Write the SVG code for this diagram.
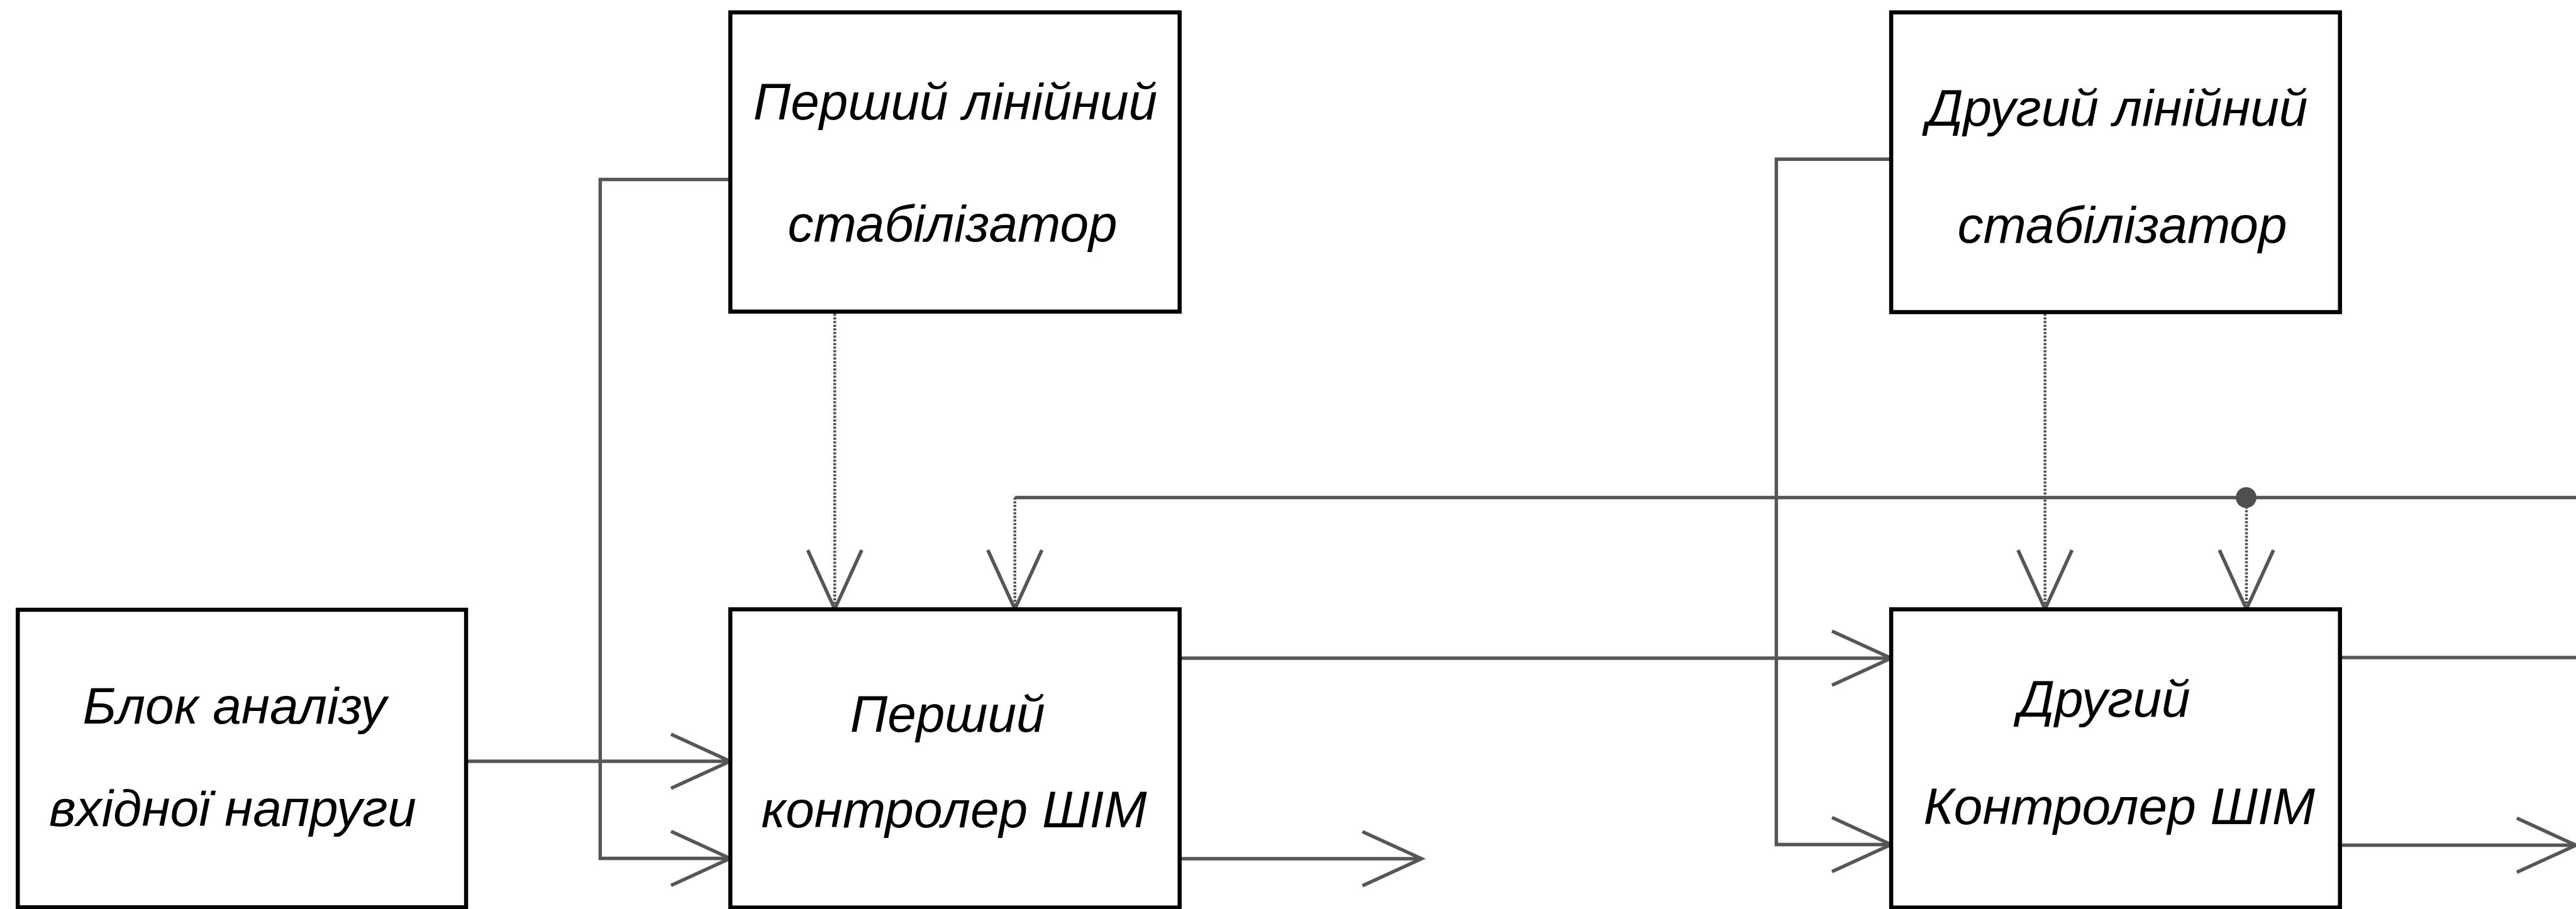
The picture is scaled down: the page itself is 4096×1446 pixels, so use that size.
<svg xmlns="http://www.w3.org/2000/svg" width="4096" height="1446" viewBox="0 0 4096 1446">
<style>
.box{fill:#fff;stroke:#000;stroke-width:6.5}
.lbl{font-family:"Liberation Sans",Arial,sans-serif;font-style:italic;font-size:82px;fill:#000;text-anchor:middle}
.wire{fill:none;stroke:#565656;stroke-width:5.5}
.dash{fill:none;stroke:#555;stroke-width:4.5;stroke-dasharray:3.5 2.3}
</style>
<defs>
<marker id="arr" markerUnits="userSpaceOnUse" markerWidth="120" markerHeight="120" viewBox="-110 -60 120 120" refX="0" refY="0" orient="auto" overflow="visible">
<path d="M-94,-43 L0,0 L-94,43" fill="none" stroke="#565656" stroke-width="5.5" stroke-dasharray="none"/>
</marker>
</defs>
<rect width="4096" height="1446" fill="#fff"/>
<g id="connectors">
<path class="wire" d="M1161,285.6 H954.4 V1365.5 H1161" marker-end="url(#arr)"/>
<path class="wire" d="M741,1211 H1161" marker-end="url(#arr)"/>
<path class="dash" d="M1327.3,499 V969" marker-end="url(#arr)"/>
<path class="wire" d="M1613.7,791.5 H4096"/>
<path class="dash" d="M1613.7,791.5 V969" marker-end="url(#arr)"/>
<path class="dash" d="M3251.7,499 V969" marker-end="url(#arr)"/>
<circle cx="3571.5" cy="791.5" r="16.5" fill="#4f4f4f"/>
<path class="dash" d="M3572,800 V969" marker-end="url(#arr)"/>
<path class="wire" d="M3007,253.3 H2824.5 V1343.5 H3007" marker-end="url(#arr)"/>
<path class="wire" d="M1875.7,1047 H3007" marker-end="url(#arr)"/>
<path class="wire" d="M1875.7,1366 H2260.4" marker-end="url(#arr)"/>
<path class="wire" d="M3720.7,1046 H4096"/>
<path class="wire" d="M3720.7,1344.6 H4096" marker-end="url(#arr)"/>
</g>
<g id="node-input-analysis">
<rect class="box" x="28.3" y="970" width="712.8" height="473.3"/>
<text class="lbl" x="373" y="1151">Блок аналізу</text>
<text class="lbl" x="370" y="1314">вхідної напруги</text>
</g>
<g id="node-stab1">
<rect class="box" x="1161.3" y="19.7" width="714.4" height="476"/>
<text class="lbl" x="1519" y="189.6">Перший лінійний</text>
<text class="lbl" x="1514.6" y="383.5">стабілізатор</text>
</g>
<g id="node-pwm1">
<rect class="box" x="1161.3" y="969.3" width="714.4" height="474.4"/>
<text class="lbl" x="1506.7" y="1164.4">Перший</text>
<text class="lbl" x="1517" y="1316.3">контролер ШІМ</text>
</g>
<g id="node-stab2">
<rect class="box" x="3007.1" y="19.7" width="713.6" height="476.8"/>
<text class="lbl" x="3366.6" y="200">Другий лінійний</text>
<text class="lbl" x="3374.5" y="385.5">стабілізатор</text>
</g>
<g id="node-pwm2">
<rect class="box" x="3007.1" y="969.3" width="713.6" height="474.4"/>
<text class="lbl" x="3346" y="1140">Другий</text>
<text class="lbl" x="3369.8" y="1310.8">Контролер ШІМ</text>
</g>
</svg>
